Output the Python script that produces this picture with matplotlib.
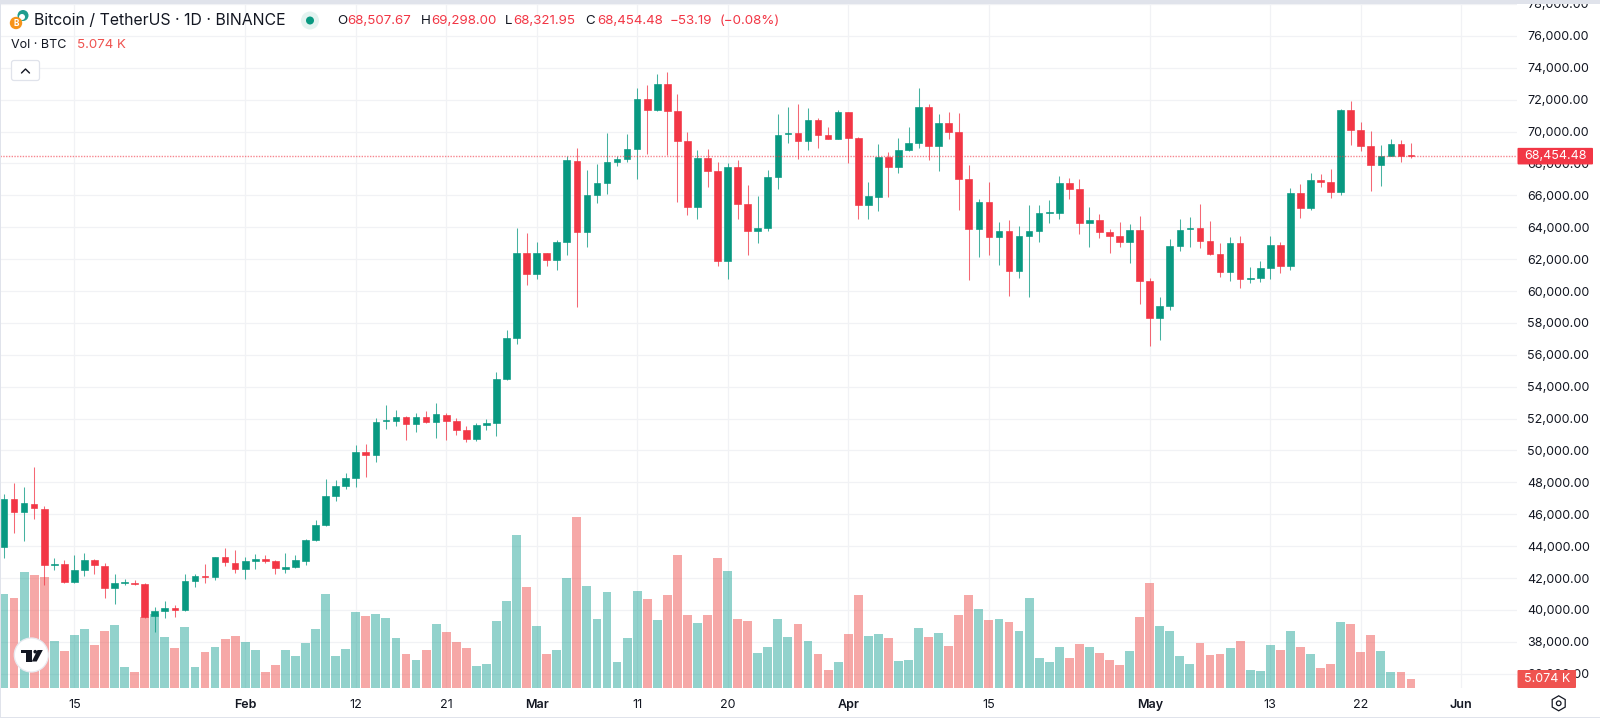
import matplotlib
matplotlib.use('Agg')
import matplotlib.pyplot as plt
from matplotlib.patches import Rectangle, Circle, FancyBboxPatch, Polygon, RegularPolygon
import numpy as np
import pandas as pd

plt.rcParams['font.family'] = ['Inter', 'DejaVu Sans']

# daily candles from 8 Jan
start_date = '2024-01-08'
opens = [
    43962, 46951, 46136, 46658, 46324, 42812, 42875, 41747, 42520, 43147,
    42750, 41349, 41684, 41705, 41600, 39615, 39928, 40096, 39970, 41830,
    42102, 42081, 43314, 42938, 42583, 43084, 43168, 43042, 42583, 42708,
    43084, 44380, 45300, 47118, 47745, 48288, 49898, 49710, 51841, 51862,
    52113, 51653, 52092, 51779, 52238, 51820, 51256, 50734, 51570, 51716,
    54475, 57025, 62396, 61079, 62354, 61936, 63065, 68185, 63671, 66011,
    66764, 68080, 68269, 68896, 72031, 71362, 72992, 71320, 69439, 65238,
    68331, 67537, 61873, 67788, 65468, 63754, 63942, 67140, 69836, 69920,
    69397, 70714, 69774, 69523, 71216, 69606, 65405, 65907, 68415, 67788,
    68833, 69293, 71571, 69105, 70568, 69962, 67056, 63880, 65552, 63399,
    63733, 61246, 63420, 63775, 64883, 64883, 66743, 66388, 64256, 64444,
    63712, 63441, 63086, 63817, 60640, 58320, 59031, 62835, 63859, 63963,
    63127, 62291, 61163, 63023, 60766, 60786, 61413, 62876, 61539, 66137,
    65176, 66952, 66868, 66200, 71362, 70087, 69105, 67893, 68478, 69230,
    68507.67,
]
highs = [
    47243, 47975, 47682, 48978, 46512, 43231, 43126, 43419, 43586, 43210,
    42917, 42227, 41914, 41872, 41705, 40200, 40534, 40304, 42269, 42227,
    42854, 43335, 43878, 43753, 43293, 43481, 43419, 43126, 43586, 43419,
    44422, 45613, 48184, 48142, 48581, 50357, 50378, 52008, 52824, 52552,
    52155, 52364, 52489, 52949, 52364, 52050, 51528, 51695, 51967, 54893,
    57547, 63963, 63650, 63085, 62396, 63190, 68457, 68958, 67579, 67955,
    69920, 68478, 69836, 72741, 72950, 73598, 73724, 72344, 70003, 68854,
    68937, 68080, 68039, 68206, 66618, 65970, 67579, 71090, 71529, 71717,
    71466, 70881, 70296, 71341, 71216, 69648, 66868, 69251, 68708, 69627,
    70296, 72741, 71717, 71132, 71257, 71174, 67872, 65761, 66826, 64319,
    64444, 64068, 65385, 65364, 65677, 67203, 67119, 67015, 65259, 64799,
    63880, 64340, 64172, 64695, 60786, 59595, 63273, 64486, 64611, 65468,
    64381, 62981, 63378, 63441, 61476, 61853, 63441, 63065, 66430, 66701,
    67391, 67349, 67642, 71445, 71947, 70589, 70045, 69188, 69564, 69502,
    69298.00,
]
lows = [
    43231, 44798, 44338, 45676, 41538, 42499, 41705, 41705, 42123, 42269,
    40743, 40367, 41538, 41538, 39489, 38633, 39510, 39573, 39907, 41454,
    41663, 41872, 42771, 42311, 41914, 42583, 42959, 42269, 42311, 42645,
    42833, 44338, 45258, 46825, 47599, 47724, 48330, 49250, 51340, 51549,
    50650, 51152, 51695, 50775, 50650, 50963, 50546, 50608, 51298, 50900,
    54440, 56690, 60369, 60745, 61560, 61309, 62270, 59010, 62772, 65531,
    66053, 67830, 68080, 66994, 68582, 71299, 68520, 65593, 64737, 64528,
    66534, 61539, 60766, 64528, 62249, 62981, 63754, 66367, 69272, 68310,
    68833, 68958, 69523, 69523, 68039, 64528, 64486, 65029, 65907, 67412,
    68791, 68979, 68206, 67516, 69523, 65092, 60661, 62145, 62250, 61602,
    59700, 60786, 59595, 63086, 64235, 64507, 65782, 63566, 62772, 63295,
    62396, 62772, 61769, 59198, 56565, 56941, 58822, 62521, 62772, 62688,
    62250, 60891, 60640, 60180, 60473, 60578, 60745, 61142, 61309, 64569,
    65092, 66534, 65844, 66032, 69126, 68791, 66262, 66555, 68478, 68081,
    68321.95,
]
closes = [
    46951, 46157, 46679, 46365, 42812, 42875, 41747, 42499, 43147, 42792,
    41349, 41663, 41747, 41621, 39573, 39907, 40096, 40012, 41809, 42102,
    42060, 43335, 42980, 42583, 43084, 43189, 43042, 42603, 42708, 43105,
    44380, 45300, 47118, 47745, 48288, 49898, 49730, 51800, 51883, 52092,
    51653, 52113, 51758, 52259, 51841, 51298, 50734, 51570, 51695, 54475,
    57025, 62396, 61079, 62354, 61936, 63065, 68206, 63671, 66032, 66764,
    68080, 68269, 68917, 72031, 71362, 72992, 71299, 69439, 65238, 68331,
    67516, 61873, 67788, 65468, 63754, 63942, 67140, 69815, 69920, 69397,
    70714, 69794, 69523, 71216, 69606, 65405, 65949, 68415, 67788, 68833,
    69314, 71571, 69105, 70568, 69962, 67056, 63880, 65594, 63399, 63733,
    61246, 63441, 63775, 64883, 64925, 66743, 66388, 64256, 64465, 63712,
    63441, 63086, 63817, 60640, 58320, 59031, 62835, 63838, 63963, 63148,
    62291, 61163, 63023, 60745, 60828, 61413, 62876, 61560, 66137, 65196,
    66952, 66868, 66220, 71383, 70087, 69105, 67893, 68478, 69230, 68457,
    68454.48,
]
# volume in thousands of BTC
volume_k = [
    58.8, 56.3, 72.7, 70.8, 69.9, 29.2, 22.9, 32.8, 36.8, 26.9,
    35.7, 39.3, 12.8, 9.7, 44.5, 46.6, 31.7, 25.2, 38.2, 13.2,
    22.3, 25.4, 30.5, 32.3, 28.4, 23.9, 9.9, 13.9, 23.9, 20.0,
    27.9, 36.8, 59.2, 20.0, 24.4, 47.5, 44.9, 46.2, 43.5, 30.9,
    21.0, 17.6, 23.9, 40.1, 34.9, 28.4, 25.0, 13.4, 15.1, 41.7,
    54.4, 96.2, 63.4, 38.9, 20.8, 23.7, 68.9, 107.3, 64.0, 43.0,
    60.3, 16.2, 31.3, 61.1, 55.7, 42.8, 58.4, 83.6, 45.4, 40.5,
    45.4, 81.7, 73.5, 43.3, 41.8, 21.6, 25.6, 43.3, 31.7, 40.1,
    29.2, 20.8, 11.3, 16.0, 34.0, 58.4, 32.6, 34.0, 31.1, 16.8,
    17.6, 37.2, 31.9, 34.2, 26.3, 45.8, 58.2, 49.7, 42.6, 43.0,
    41.0, 35.3, 56.5, 18.7, 15.8, 25.4, 18.5, 27.3, 25.4, 22.0,
    17.2, 13.9, 22.9, 44.5, 65.7, 38.6, 35.3, 19.7, 15.1, 28.1,
    20.6, 21.4, 25.0, 29.4, 10.9, 10.7, 26.5, 23.5, 35.3, 25.4,
    21.4, 12.0, 14.7, 41.2, 40.3, 22.5, 33.0, 22.9, 9.9, 9.7,
    5.074,
]
tick_dates = ['2024-01-15', '2024-02-01', '2024-02-12', '2024-02-21', '2024-03-01',
              '2024-03-11', '2024-03-20', '2024-04-01', '2024-04-15', '2024-05-01',
              '2024-05-13', '2024-05-22', '2024-06-01']
tick_labels = ['15', 'Feb', '12', '21', 'Mar', '11', '20', 'Apr', '15', 'May', '13', '22', 'Jun']
month_labels = ['Feb', 'Mar', 'Apr', 'May', 'Jun']
price_ticks = list(range(36000, 80000, 2000))
last_volume_label = '5.074 K'

GREEN = '#089981'
RED = '#F23645'
VOL_GREEN = '#26a69a'
VOL_RED = '#ef5350'
GRID = '#f1f2f5'
TEXT = '#131722'

# pixel layout of the pane
W, H = 1600, 718
PANE_R, PANE_T, PANE_B = 1517, 4, 687.5
DAY_PX = 10.05
FIRST_PX = 4
Y76 = 35.7
PX_PER_2000 = 31.9
VOL_PX_PER_K = 1 / 0.63


def price_to_py(p):
    return Y76 + (76000 - p) / 2000 * PX_PER_2000


def py_to_price(y):
    return 76000 - (y - Y76) / PX_PER_2000 * 2000


fig = plt.figure(figsize=(W / 100, H / 100), dpi=100, facecolor='white')
box = [0, 1 - PANE_B / H, PANE_R / W, (PANE_B - PANE_T) / H]
ax_grid = fig.add_axes(box, zorder=0)
ax_vol = fig.add_axes(box, zorder=1, sharex=ax_grid)
ax_price = fig.add_axes(box, zorder=2, sharex=ax_grid, sharey=ax_grid)

x = np.arange(len(closes))
o, h, l, c = map(np.array, (opens, highs, lows, closes))
up = c >= o
candle_colors = [GREEN if u else RED for u in up]
vol_colors = [VOL_GREEN if u else VOL_RED for u in up]
tick_x = (pd.to_datetime(tick_dates) - pd.Timestamp(start_date)).days.to_numpy()

ax_grid.set_xlim(-FIRST_PX / DAY_PX, (PANE_R - FIRST_PX) / DAY_PX)
ax_grid.set_ylim(py_to_price(PANE_B), py_to_price(PANE_T))
ax_grid.set_xticks(tick_x)
ax_grid.set_xticklabels(tick_labels)
ax_grid.set_yticks(price_ticks)
ax_grid.set_yticklabels([f'{p:,.2f}' for p in price_ticks])
ax_grid.yaxis.tick_right()
ax_grid.tick_params(axis='both', length=0, labelcolor=TEXT, labelsize=9.0)
ax_grid.tick_params(axis='y', pad=7.2)
ax_grid.tick_params(axis='x', pad=8.2)
ax_grid.grid(True, color=GRID, linewidth=0.9)
ax_grid.set_axisbelow(True)
for lab in ax_grid.get_xticklabels():
    if lab.get_text() in month_labels:
        lab.set_fontweight('semibold')
for s in ax_grid.spines.values():
    s.set_visible(False)

ax_vol.bar(x, volume_k, width=0.88, color=vol_colors, alpha=0.5, linewidth=0)
ax_vol.set_ylim(0, (PANE_B - PANE_T) / VOL_PX_PER_K)
ax_vol.axis('off')

ax_price.vlines(x, l, h, colors=candle_colors, linewidth=0.75, alpha=0.75)
ax_price.bar(x, np.abs(c - o), bottom=np.minimum(o, c), width=0.66, color=candle_colors,
             edgecolor=candle_colors, linewidth=0.45)
ax_price.axhline(closes[-1], color=RED, linewidth=1.0, linestyle=(0, (1, 1)), alpha=0.6)
ax_price.axis('off')

# everything below is chart furniture, drawn in pixel coordinates
ov = fig.add_axes([0, 0, 1, 1], zorder=5)
ov.set_xlim(0, W)
ov.set_ylim(H, 0)
ov.axis('off')
ov.add_patch(Rectangle((0, 0), W, 3.6, color='#e0e3eb', linewidth=0))
ov.add_patch(Rectangle((0, 716.8), W, 1.2, color='#e0e3eb', linewidth=0))
ov.add_patch(Rectangle((0, 0), 0.9, H, color='#e0e3eb', linewidth=0))

# coin logo
ov.add_patch(Circle((23, 15.5), 5.5, color='#1f9d8f', linewidth=0))
ov.add_patch(Circle((22, 17), 3, color='white', linewidth=0))
ov.add_patch(Circle((16, 23), 6.2, color='#f7931a', linewidth=0))
ov.text(16, 23.2, 'B', color='white', fontsize=6, fontweight='bold', ha='center', va='center')

ov.text(34, 20.8, 'Bitcoin / TetherUS · 1D · BINANCE', color=TEXT, fontsize=11.4, va='center')
ov.add_patch(Circle((310, 20.5), 9, color='#e3f3f0', linewidth=0))
ov.add_patch(Circle((310, 20.5), 4, color=GREEN, linewidth=0))

for px, s, col in [(337, 'O', TEXT), (347.5, '68,507.67', RED), (421, 'H', TEXT),
                   (431.5, '69,298.00', RED), (504.5, 'L', TEXT), (513, '68,321.95', RED),
                   (585.5, 'C', TEXT), (597, '68,454.48', RED),
                   (670, '−53.19', RED), (719.5, '(−0.08%)', RED)]:
    ov.text(px, 20.8, s, color=col, fontsize=9.6, va='center')

ov.text(11, 45.5, 'Vol · BTC', color=TEXT, fontsize=9, va='center')
ov.text(77, 45.5, last_volume_label, color=VOL_RED, fontsize=9.6, va='center')

ov.add_patch(FancyBboxPatch((11.5, 60.5), 28, 20, boxstyle='round,pad=0,rounding_size=2.5',
                            facecolor='white', edgecolor='#e0e3eb', linewidth=0.9))
ov.plot([21.5, 25.5, 29.5], [73, 69, 73], color=TEXT, linewidth=1.0, solid_capstyle='round')

# tradingview badge
ov.add_patch(Circle((31.3, 655), 17, facecolor='white', edgecolor='#e8eaf0', linewidth=0.9))
ov.add_patch(Polygon([(20.7, 650), (31.7, 650), (31.7, 661.5), (26, 661.5), (26, 653.4), (20.7, 653.4)],
                     closed=True, color=TEXT, linewidth=0))
ov.add_patch(Circle((35.2, 651.7), 1.8, color=TEXT, linewidth=0))
ov.add_patch(Polygon([(37.5, 650), (42.8, 650), (36.7, 661.5), (31.8, 661.5)], closed=True,
                     color=TEXT, linewidth=0))

# last price tag and last volume tag
py = price_to_py(closes[-1])
ov.add_patch(FancyBboxPatch((1517.5, py - 8.2), 75.5, 16.6, boxstyle='round,pad=0,rounding_size=1',
                            color=RED, linewidth=0))
ov.text(1555.2, py + 0.2, f'{closes[-1]:,.2f}', color='white', fontsize=9.0, ha='center', va='center')
ov.add_patch(FancyBboxPatch((1517.5, 670), 58.5, 18, boxstyle='round,pad=0,rounding_size=1',
                            color=VOL_RED, linewidth=0))
ov.text(1546.7, 679, last_volume_label, color='white', fontsize=9.0, ha='center', va='center')

# settings icon
ov.add_patch(RegularPolygon((1558.7, 703.3), 6, radius=7.5, facecolor='none',
                            edgecolor=TEXT, linewidth=0.9))
ov.add_patch(Circle((1558.7, 703.3), 2.3, facecolor='none', edgecolor=TEXT, linewidth=0.9))

fig.savefig('out.png', dpi=100)
